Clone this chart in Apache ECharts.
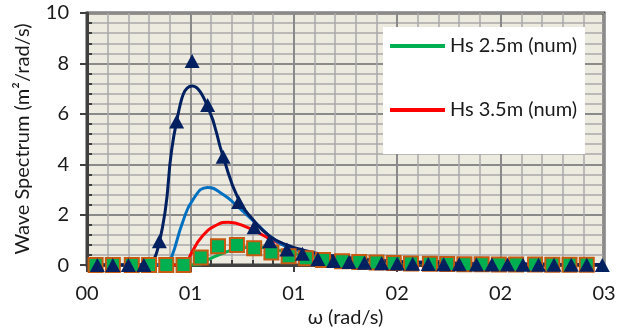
<!DOCTYPE html>
<html><head><meta charset="utf-8">
<script src="https://cdn.jsdelivr.net/npm/echarts@6/dist/echarts.min.js"></script>
<style>html,body{margin:0;padding:0;background:#fff}#c{width:620px;height:333px}</style>
</head><body><div id="c"></div>
<script>
// tick labels as printed on the reference
const xTickLabels = ['00', '01', '01', '02', '02', '03'];
const yTickLabels = ['0', '2', '4', '6', '8', '10'];

// triangle markers and navy curve share these omega values (rad/s)
const triX = [0.06, 0.15, 0.24, 0.33, 0.42, 0.52, 0.61, 0.70, 0.79, 0.88, 0.97, 1.06, 1.16, 1.25, 1.34, 1.43, 1.52,
              1.61, 1.71, 1.80, 1.89, 1.98, 2.07, 2.16, 2.26, 2.35, 2.44, 2.53, 2.62, 2.71, 2.81, 2.90, 2.99];
const triY = [0, 0, 0, 0, 0.95, 5.7, 8.1, 6.35, 4.3, 2.5, 1.5, 0.95, 0.62, 0.45, 0.24, 0.16, 0.12,
              0.09, 0.07, 0.06, 0.05, 0.04, 0.03, 0.03, 0.02, 0.02, 0.02, 0.01, 0.01, 0.01, 0.01, 0.01, 0];
const navyY = [0, 0, 0, 0, 0.9, 5.7, 7.1, 6.3, 4.3, 2.6, 1.75, 1.15, 0.8, 0.6, 0.46, 0.36, 0.28,
               0.22, 0.17, 0.14, 0.11, 0.09, 0.08, 0.06, 0.05, 0.05, 0.04, 0.04, 0.03, 0.03, 0.02, 0.02, 0.02];

// square markers
const sqX = [0.05, 0.15, 0.26, 0.36, 0.46, 0.56, 0.66, 0.76, 0.87, 0.97, 1.07, 1.17, 1.27, 1.37, 1.48,
             1.58, 1.68, 1.78, 1.88, 1.99, 2.09, 2.19, 2.29, 2.39, 2.49, 2.60, 2.70, 2.80, 2.90];
const sqY = [0, 0, 0, 0, 0, 0, 0.3, 0.75, 0.8, 0.67, 0.5, 0.35, 0.27, 0.2, 0.15,
             0.12, 0.1, 0.08, 0.06, 0.05, 0.04, 0.03, 0.03, 0.02, 0.02, 0.02, 0.01, 0.01, 0.01];

// light-blue curve
const blueX = [0.05, 0.26, 0.46, 0.49, 0.555, 0.615, 0.70, 0.79, 0.87, 0.99, 1.08, 1.16, 1.27, 1.37, 1.48,
               1.68, 1.88, 2.09, 2.29, 2.49, 2.70, 2.90];
const blueY = [0, 0, 0, 0.3, 1.7, 2.6, 3.08, 2.8, 2.35, 1.6, 1.05, 0.72, 0.52, 0.4, 0.32,
               0.2, 0.13, 0.08, 0.06, 0.04, 0.03, 0.02];

// red curve (Hs 3.5m)
const redX = [0.05, 0.36, 0.57, 0.60, 0.67, 0.755, 0.82, 0.93, 1.045, 1.14, 1.27, 1.37, 1.48,
              1.68, 1.88, 2.09, 2.29, 2.49, 2.70, 2.90];
const redY = [0, 0, 0, 0.4, 1.15, 1.6, 1.7, 1.5, 1.1, 0.8, 0.5, 0.4, 0.32,
              0.2, 0.13, 0.09, 0.06, 0.04, 0.03, 0.02];

// green curve (Hs 2.5m)
const greenX = [0.05, 0.46, 0.64, 0.69, 0.77, 0.87, 0.97, 1.07, 1.17, 1.27, 1.37, 1.48,
                1.68, 1.88, 2.09, 2.29, 2.49, 2.70, 2.90];
const greenY = [0, 0, 0, 0.17, 0.42, 0.65, 0.72, 0.65, 0.5, 0.38, 0.3, 0.23,
                0.15, 0.1, 0.07, 0.05, 0.03, 0.02, 0.01];

const seriesNames = ['Hs 2.5m (num)', 'Hs 3.5m (num)', 'Blue curve', 'Navy curve', 'Squares', 'Triangles'];

const zip = (xs, ys) => xs.map((x, i) => [x, ys[i]]);
const FONT = "Lato, 'Open Sans', sans-serif";
const TXT = '#1a1a1a';

const chart = echarts.init(document.getElementById('c'), null, {renderer: 'canvas'});
const axisCommon = {
  axisLine: {show: true, onZero: false, lineStyle: {color: '#404040', width: 3}},
  axisTick: {show: true, length: 7, lineStyle: {color: '#404040', width: 2}},
  minorTick: {show: true, splitNumber: 5, length: -5, lineStyle: {color: '#404040', width: 2}},
  splitLine: {show: true, lineStyle: {color: '#8a8a8a', width: 2}},
  minorSplitLine: {show: true, lineStyle: {color: '#a9a9a9', width: 1.5}},
  nameLocation: 'middle',
  nameTextStyle: {fontSize: 20, fontFamily: FONT, color: TXT}
};
const lineSeries = (name, xs, ys, color, z) => ({
  name, type: 'line', data: zip(xs, ys), smooth: 0.5, symbol: 'none', z,
  lineStyle: {color, width: 3}, itemStyle: {color}
});

chart.setOption({
  animation: false,
  grid: {left: 87, right: 16, top: 13, bottom: 67, show: true,
         backgroundColor: '#EDEBE0', borderColor: '#404040', borderWidth: 3},
  xAxis: Object.assign({}, axisCommon, {
    type: 'value', min: 0, max: 3, interval: 0.6,
    name: 'ω (rad/s)', nameGap: 38,
    axisLabel: {formatter: v => xTickLabels[Math.round(v / 0.6)], fontSize: 20, fontFamily: FONT, color: TXT, margin: 18}
  }),
  yAxis: Object.assign({}, axisCommon, {
    type: 'value', min: 0, max: 10, interval: 2,
    name: 'Wave Spectrum (m²/rad/s)', nameGap: 54,
    axisLabel: {formatter: v => yTickLabels[Math.round(v / 2)], fontSize: 20, fontFamily: FONT, color: TXT, margin: 18}
  }),
  legend: {
    data: [seriesNames[0], seriesNames[1]], orient: 'vertical', left: 390, top: 36,
    icon: 'rect', itemWidth: 55, itemHeight: 4, itemGap: 44, padding: 0, z: 10,
    textStyle: {fontSize: 20, fontFamily: FONT, color: TXT}
  },
  graphic: [{type: 'rect', left: 383, top: 27, z: 8, shape: {width: 202, height: 127}, style: {fill: '#ffffff'}}],
  series: [
    lineSeries(seriesNames[0], greenX, greenY, '#00B050', 2),
    lineSeries(seriesNames[1], redX, redY, '#FF0000', 3),
    lineSeries(seriesNames[2], blueX, blueY, '#0070C0', 4),
    lineSeries(seriesNames[3], triX, navyY, '#002060', 5),
    {name: seriesNames[4], type: 'scatter', data: zip(sqX, sqY), symbol: 'rect', symbolSize: 14, z: 6,
     itemStyle: {color: '#00B050', borderColor: '#C55A11', borderWidth: 2, opacity: 1}},
    {name: seriesNames[5], type: 'scatter', data: zip(triX, triY), symbol: 'triangle', symbolSize: [15, 14], z: 7,
     itemStyle: {color: '#002060', opacity: 1}}
  ]
});
</script></body></html>
